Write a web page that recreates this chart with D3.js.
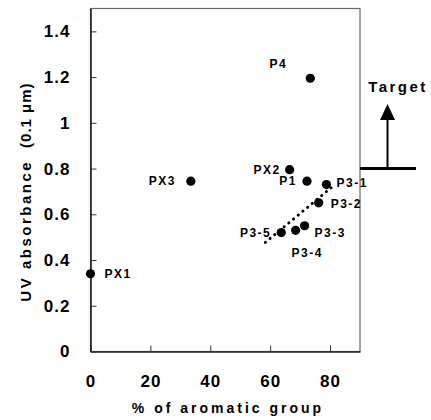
<!DOCTYPE html>
<html>
<head>
<meta charset="utf-8">
<script src="https://cdn.jsdelivr.net/npm/d3@7"></script>
<style>
  body { margin: 0; background: #fff; }
  svg { display: block; }
</style>
</head>
<body>
<div class="canvas"></div>
<script>
// data
const names      = ['PX1', 'PX3', 'P4', 'PX2', 'P1', 'P3-1', 'P3-2', 'P3-3', 'P3-4', 'P3-5']
const aromatic   = [0, 33.5, 73.4, 66.5, 72.3, 78.8, 76.2, 71.5, 68.5, 63.7]
const absorbance = [0.34, 0.745, 1.195, 0.795, 0.745, 0.73, 0.65, 0.55, 0.53, 0.52]
const trendX = [58.4, 80.8]
const trendY = [0.477, 0.721]
const targetValue = 0.8
const xTicks = [0, 20, 40, 60, 80]
const yTicks = [0, 0.2, 0.4, 0.6, 0.8, 1, 1.2, 1.4]

// label placement (dx, dy from the dot, anchor)
const labelPos = {
  'PX1':  [14, 4, 'start'],
  'PX3':  [-15, 4, 'end'],
  'P4':   [-23, -10, 'end'],
  'PX2':  [-9, 4, 'end'],
  'P1':   [-10, 4, 'end'],
  'P3-1': [10, 2, 'start'],
  'P3-2': [12, 5, 'start'],
  'P3-3': [10, 11, 'start'],
  'P3-4': [-4, 27, 'start'],
  'P3-5': [-10, 4, 'end']
}

const width = 431
const height = 420
const margin = {left: 90.5, top: 8.5, right: 71, bottom: 68.5}
const font = "'Liberation Sans', Arial, sans-serif"

const svg = d3.select('.canvas')
  .append('svg')
  .attr('width', width)
  .attr('height', height)

const x = d3.scaleLinear().domain([0, 90]).range([margin.left, width - margin.right])
const y = d3.scaleLinear().domain([0, 1.5]).range([height - margin.bottom, margin.top])

// frame
svg.append('rect')
  .attr('x', x(0))
  .attr('y', y(1.5))
  .attr('width', x(90) - x(0))
  .attr('height', y(0) - y(1.5))
  .attr('fill', 'none')
  .attr('stroke', '#666')
  .attr('stroke-width', 1.2)

const xAxis = svg.append('g')
  .attr('transform', `translate(0, ${y(0)})`)
  .call(d3.axisBottom(x).tickValues(xTicks).tickSizeInner(-6).tickSizeOuter(0).tickPadding(23).tickFormat(d3.format('d')))

const yAxis = svg.append('g')
  .attr('transform', `translate(${x(0)}, 0)`)
  .call(d3.axisLeft(y).tickValues(yTicks).tickSizeInner(-6).tickSizeOuter(0).tickPadding(20).tickFormat(d => String(+d.toFixed(1))))

svg.selectAll('.domain').attr('stroke', '#222').attr('stroke-width', 1.6)
svg.selectAll('.tick line').attr('stroke', '#333').attr('stroke-width', 1)
svg.selectAll('.tick text')
  .attr('font-family', font)
  .attr('font-size', 17)
  .attr('font-weight', 'bold')
  .attr('letter-spacing', 1)
  .attr('fill', '#000')

// trend line
svg.append('line')
  .attr('x1', x(trendX[0])).attr('y1', y(trendY[0]))
  .attr('x2', x(trendX[1])).attr('y2', y(trendY[1]))
  .attr('stroke', '#000')
  .attr('stroke-width', 3)
  .attr('stroke-linecap', 'round')
  .attr('stroke-dasharray', '0.1 6')

// points
const pts = names.map((n, i) => ({name: n, x: aromatic[i], y: absorbance[i]}))

svg.selectAll('circle.pt')
  .data(pts)
  .enter()
  .append('circle')
  .attr('class', 'pt')
  .attr('cx', d => x(d.x))
  .attr('cy', d => y(d.y))
  .attr('r', 4.6)
  .attr('fill', '#000')

svg.selectAll('text.lbl')
  .data(pts)
  .enter()
  .append('text')
  .attr('class', 'lbl')
  .attr('x', d => x(d.x) + labelPos[d.name][0])
  .attr('y', d => y(d.y) + labelPos[d.name][1])
  .attr('text-anchor', d => labelPos[d.name][2])
  .attr('font-family', font)
  .attr('font-size', 12)
  .attr('font-weight', 'bold')
  .attr('letter-spacing', 1.5)
  .text(d => d.name)

// target marker
const tx = 387.5
svg.append('line')
  .attr('x1', x(90)).attr('x2', 416)
  .attr('y1', y(targetValue)).attr('y2', y(targetValue))
  .attr('stroke', '#000')
  .attr('stroke-width', 3)

svg.append('line')
  .attr('x1', tx).attr('x2', tx)
  .attr('y1', y(targetValue)).attr('y2', 118)
  .attr('stroke', '#000')
  .attr('stroke-width', 2)

svg.append('path')
  .attr('d', `M${tx},104 L${tx - 7.5},120 L${tx + 7.5},120 Z`)
  .attr('fill', '#000')

svg.append('text')
  .attr('x', 398)
  .attr('y', 92)
  .attr('text-anchor', 'middle')
  .attr('font-family', font)
  .attr('font-size', 15)
  .attr('font-weight', 'bold')
  .attr('letter-spacing', 2.5)
  .text('Target')

// axis titles
svg.append('text')
  .attr('x', 228)
  .attr('y', 413)
  .attr('text-anchor', 'middle')
  .attr('font-family', font)
  .attr('font-size', 14)
  .attr('font-weight', 'bold')
  .attr('letter-spacing', 3)
  .text('% of aromatic group')

const yTitle = svg.append('text')
  .attr('transform', 'translate(31, 192) rotate(-90)')
  .attr('text-anchor', 'middle')
  .attr('font-family', font)
  .attr('font-size', 15)
  .attr('font-weight', 'bold')

yTitle.append('tspan').attr('letter-spacing', 2.5).text('UV absorbance')
yTitle.append('tspan').attr('dx', 12).attr('letter-spacing', 1).text('(0.1 μm)')
</script>
</body>
</html>
